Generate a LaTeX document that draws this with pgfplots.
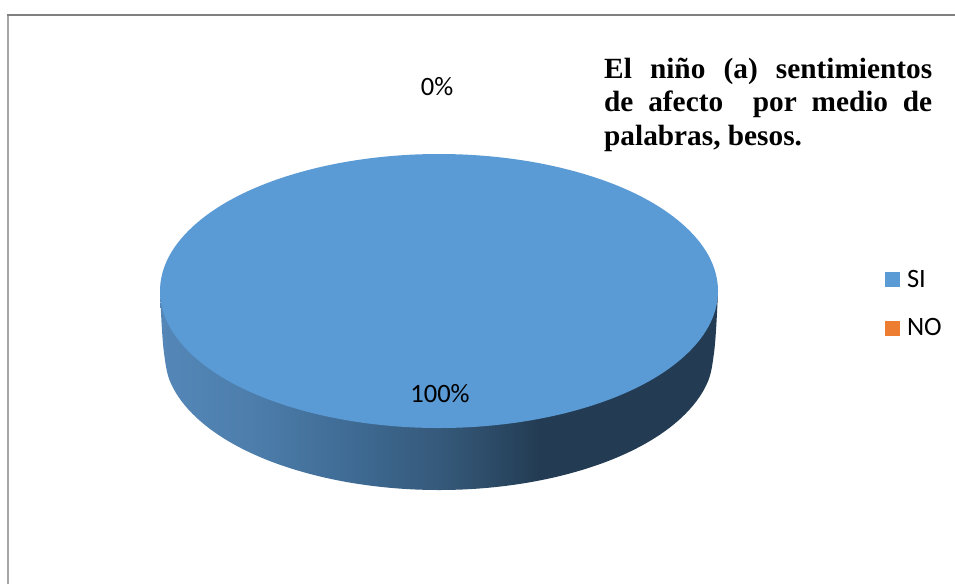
\documentclass[border=0pt]{standalone}
\usepackage{fontspec}
\setmainfont{Carlito}
\newfontfamily\titlefont{Liberation Serif}[BoldFont={Liberation Serif Bold}]
\usepackage{pgfplots}
\pgfplotsset{compat=1.18}
\definecolor{siblue}{HTML}{5B9BD5}
\definecolor{noorange}{HTML}{ED7D31}
\definecolor{c1}{HTML}{5487B8}
\definecolor{c2}{HTML}{4D7EAC}
\definecolor{c3}{HTML}{3F6B94}
\definecolor{c4}{HTML}{345777}
\definecolor{c5}{HTML}{233C53}
\pgfdeclarehorizontalshading{pieside}{100bp}{
  color(0bp)=(c1); color(25bp)=(c1); color(33bp)=(c2); color(42bp)=(c3);
  color(51bp)=(c4); color(59bp)=(c5); color(75bp)=(c5); color(100bp)=(c5)}
\begin{document}
\begin{tikzpicture}
\useasboundingbox (0,0) rectangle (955pt,584pt);
\begin{axis}[
    at={(0,0)}, anchor=south west,
    width=955pt, height=584pt, scale only axis,
    xmin=0, xmax=955, ymin=0, ymax=584,
    y dir=reverse,
    hide axis,
    legend cell align=left,
    legend style={
        at={(axis cs:885,268)}, anchor=north west,
        draw=none, fill=none, font=\fontsize{26.5}{28}\selectfont,
        row sep=26pt, inner sep=0pt, outer sep=0pt,
        /tikz/every even column/.append style={column sep=0pt},
    },
    legend image code/.code={
        \fill[#1] (0pt,-7.5pt) rectangle (15pt,7.5pt);
    },
]
% frame of the chart area
\addplot[forget plot, draw=black!35, line width=2pt] coordinates {(8,584) (8,15)};
\addplot[forget plot, draw=black!50, line width=1.5pt] coordinates {(7,15) (955,15)};

% side wall of the disc
\addplot[forget plot, draw=none, shading=pieside, smooth, tension=0.61] coordinates {
    (718,291) (714,353) (704.6,388.5) (677.2,421.5) (633.5,449.9) (576.5,471.6)
    (510.2,485.3) (439,490) (367.8,485.3) (301.5,471.6) (244.5,449.9)
    (200.8,421.5) (173.4,388.5) (164,353) (160,291)
} --cycle;

% top of the disc: SI takes the whole of it, NO is 0
\addplot[forget plot, draw=none, fill=siblue, smooth cycle, tension=0.61] coordinates {
    (718,291) (708.5,326.5) (680.6,359.5) (636.3,387.9) (578.5,409.6) (511.2,423.3)
    (439,428) (366.8,423.3) (299.5,409.6) (241.7,387.9) (197.4,359.5) (169.5,326.5)
    (160,291) (169.5,255.5) (197.4,222.5) (241.7,194.1) (299.5,172.4) (366.8,158.7)
    (439,154) (511.2,158.7) (578.5,172.4) (636.3,194.1) (680.6,222.5) (708.5,255.5)
};

% data labels
\addplot[forget plot, only marks, mark=none, point meta=explicit symbolic,
    nodes near coords,
    every node near coord/.style={anchor=center, text=black, inner sep=0pt,
        font=\fontsize{26.5}{28}\selectfont}]
    coordinates {(440,394) [100\%] (437,87) [0\%]};

\addlegendimage{draw=none, fill=siblue}
\addlegendentry{\hspace{5pt}SI}
\addlegendimage{draw=none, fill=noorange}
\addlegendentry{\hspace{5pt}NO}

\node[anchor=north west, inner sep=0pt, align=left] at (axis cs:604,57.5) {%
  \parbox{328pt}{\titlefont\bfseries\fontsize{29.3}{33.5}\selectfont
    \hbox to 328pt{El\hfill niño\hfill (a)\hfill sentimientos}
    \hbox to 328pt{de\hfill afecto\hfill\hfill por\hfill medio\hfill de}
    \hbox to 328pt{palabras, besos.\hfill}}};
\end{axis}
\end{tikzpicture}
\end{document}
